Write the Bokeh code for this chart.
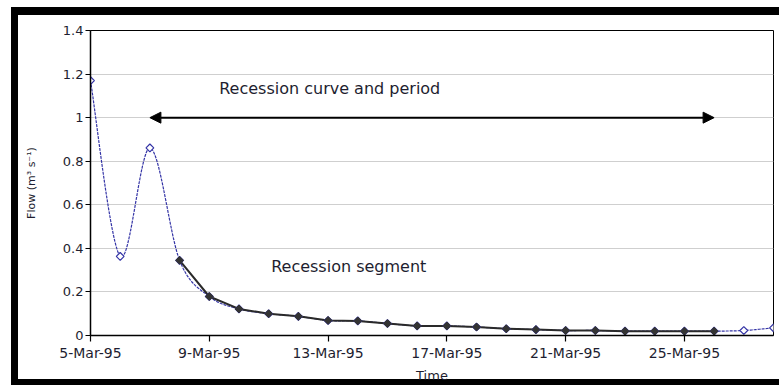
import numpy as np
import pandas as pd
from bokeh.plotting import figure
from bokeh.models import Range1d, FixedTicker, Arrow, NormalHead, Label
from bokeh.embed import file_html
from bokeh.resources import INLINE

# ---------------- data ----------------
dates = ["1995-03-05", "1995-03-06", "1995-03-07", "1995-03-08", "1995-03-09",
         "1995-03-10", "1995-03-11", "1995-03-12", "1995-03-13", "1995-03-14",
         "1995-03-15", "1995-03-16", "1995-03-17", "1995-03-18", "1995-03-19",
         "1995-03-20", "1995-03-21", "1995-03-22", "1995-03-23", "1995-03-24",
         "1995-03-25", "1995-03-26", "1995-03-27", "1995-03-28"]
flow = [1.17, 0.363, 0.861, 0.345, 0.179,
        0.122, 0.100, 0.088, 0.069, 0.067,
        0.055, 0.044, 0.044, 0.039, 0.031,
        0.027, 0.023, 0.023, 0.020, 0.020,
        0.020, 0.020, 0.023, 0.035]
segment_first = "1995-03-08"
segment_last = "1995-03-26"

x_tick_dates = ["1995-03-05", "1995-03-09", "1995-03-13", "1995-03-17", "1995-03-21", "1995-03-25"]
x_tick_labels = ["5-Mar-95", "9-Mar-95", "13-Mar-95", "17-Mar-95", "21-Mar-95", "25-Mar-95"]
x_end_date = "1995-03-28"
y_ticks = [0, 0.2, 0.4, 0.6, 0.8, 1.0, 1.2, 1.4]
y_tick_labels = ["0", "0.2", "0.4", "0.6", "0.8", "1", "1.2", "1.4"]

arrow_dates = ["1995-03-07", "1995-03-26"]
arrow_flow = 1.0
notes = [("Recession curve and period", "1995-03-09 08:00", 1.133),
         ("Recession segment", "1995-03-11 02:00", 0.316)]

# ---------------- helpers ----------------
t0 = pd.Timestamp(dates[0])


def day(s):
    return (pd.Timestamp(s) - t0) / pd.Timedelta(days=1)


x = np.array([day(d) for d in dates])
y = np.array(flow, dtype=float)


def smooth(xv, yv, n=24):
    px = np.concatenate([[xv[0]], xv, [xv[-1]]])
    py = np.concatenate([[yv[0]], yv, [yv[-1]]])
    ox, oy = [], []
    t = np.linspace(0, 1, n, endpoint=False)
    for i in range(len(xv) - 1):
        p0 = np.array([px[i], py[i]])
        p1 = np.array([px[i + 1], py[i + 1]])
        p2 = np.array([px[i + 2], py[i + 2]])
        p3 = np.array([px[i + 3], py[i + 3]])
        b1 = p1 + (p2 - p0) / 6.0
        b2 = p2 - (p3 - p1) / 6.0
        for tt in t:
            pt = ((1 - tt) ** 3) * p1 + 3 * ((1 - tt) ** 2) * tt * b1 + 3 * (1 - tt) * tt ** 2 * b2 + tt ** 3 * p2
            ox.append(pt[0]); oy.append(pt[1])
    ox.append(xv[-1]); oy.append(yv[-1])
    return ox, oy


sx, sy = smooth(x, y)
seg = (x >= day(segment_first)) & (x <= day(segment_last))

text_color = "#1e1e30"
font = "DejaVu Sans"
blue = "#3434a6"

# ---------------- figure ----------------
W, H = 779, 385
p = figure(width=W, height=H, output_backend="svg", toolbar_location=None,
           x_range=Range1d(0, day(x_end_date)), y_range=Range1d(0, 1.4),
           min_border_left=90, min_border_right=6, min_border_top=30, min_border_bottom=50,
           background_fill_color="white", border_fill_alpha=0)

# outer black frame (left, top, bottom bars) painted behind the transparent canvas border
p.styles = {
    "background": (
        "linear-gradient(#000,#000) 11px 7px / 7px 378px no-repeat, "
        "linear-gradient(#000,#000) 11px 7px / 768px 8px no-repeat, "
        "linear-gradient(#000,#000) 11px 379px / 768px 6px no-repeat, "
        "#ffffff"
    )
}

p.outline_line_color = "black"
p.outline_line_width = 1
p.outline_line_alpha = 1

p.xgrid.visible = False
p.ygrid.ticker = FixedTicker(ticks=y_ticks)
p.ygrid.grid_line_color = "#cfcfcf"
p.ygrid.grid_line_width = 1

xt = [day(d) for d in x_tick_dates]
p.xaxis.ticker = FixedTicker(ticks=xt)
p.xaxis.major_label_overrides = dict(zip(xt, x_tick_labels))
p.yaxis.ticker = FixedTicker(ticks=y_ticks)
p.yaxis.major_label_overrides = dict(zip(y_ticks, y_tick_labels))

for ax in (p.xaxis[0], p.yaxis[0]):
    ax.axis_line_color = "black"
    ax.axis_line_width = 1.5
    ax.major_tick_line_color = "black"
    ax.major_tick_line_width = 1.2
    ax.major_tick_in = 0
    ax.minor_tick_line_color = None
    ax.major_label_text_font = font
    ax.major_label_text_color = text_color
    ax.axis_label_text_font = font
    ax.axis_label_text_color = text_color
    ax.axis_label_text_font_style = "normal"

p.xaxis.major_tick_out = 6
p.xaxis.major_label_standoff = 3
p.xaxis.major_label_text_font_size = "14px"
p.xaxis.axis_label = "Time"
p.xaxis.axis_label_text_font_size = "13px"
p.xaxis.axis_label_standoff = 4

p.yaxis.major_tick_out = 5
p.yaxis.major_label_standoff = 2
p.yaxis.major_label_text_font_size = "13px"
p.yaxis.axis_label = "Flow (m³ s⁻¹)"
p.yaxis.axis_label_text_font_size = "11px"
p.yaxis.axis_label_standoff = 22

# series
p.line(sx, sy, line_color=blue, line_width=1.2, line_dash="3 1")
p.line(x[seg], y[seg], line_color="#2a2a2a", line_width=2)
p.scatter(x, y, marker="square", angle=np.pi / 4, size=5.5,
          fill_color="white", line_color=blue, line_width=1.2)
p.scatter(x[seg], y[seg], marker="square", angle=np.pi / 4, size=5.5,
          fill_color="#333333", line_color="#333333", line_width=1)

# arrow
p.add_layout(Arrow(start=NormalHead(size=11, fill_color="black", line_color="black"),
                   end=NormalHead(size=11, fill_color="black", line_color="black"),
                   x_start=day(arrow_dates[0]), y_start=arrow_flow,
                   x_end=day(arrow_dates[1]), y_end=arrow_flow,
                   line_color="black", line_width=2))

for txt, d, v in notes:
    p.add_layout(Label(x=day(d), y=v, text=txt, text_font=font, text_font_size="16px",
                       text_color=text_color, text_baseline="middle", text_align="left"))

open("out.html", "w").write(file_html(p, INLINE))
